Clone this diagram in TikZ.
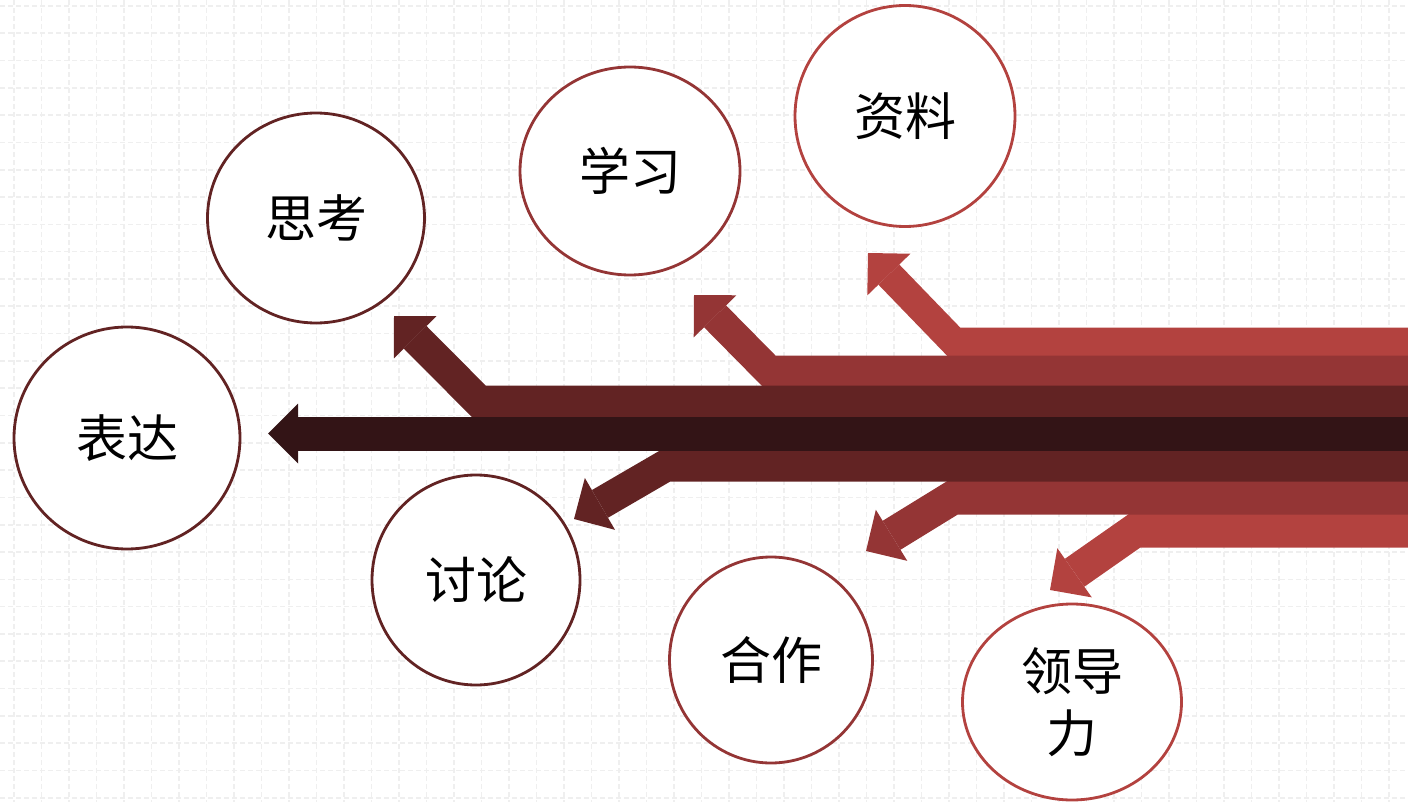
\documentclass[tikz,border=0pt]{standalone}
\usepackage{fontspec}
\newfontfamily\cjk{Noto Sans CJK SC}
\usetikzlibrary{arrows.meta,shapes.geometric}
\definecolor{redA}{HTML}{B3423F}
\definecolor{redB}{HTML}{943535}
\definecolor{redC}{HTML}{622323}
\definecolor{redD}{HTML}{331416}
\definecolor{gridgray}{HTML}{EFEFEF}
\begin{document}
\begin{tikzpicture}
            [
                x = 1pt, y = -1pt,
                topic/.style = {shape=ellipse, draw, fill=white, line width=2.8pt,
                inner sep=0pt, align=center, text=black,
                font=\cjk\fontsize{51}{62}\selectfont},
                band/.style  = {line width=#1, line join=miter,
                -{Triangle[width=60pt, length=30pt, line width=0pt]}}
            ]
            \useasboundingbox (0,0) rectangle (1408,802);
            \draw[gridgray, line width=1.6pt, dash pattern=on 5pt off 3pt]
                foreach \i in {0,...,51} {(14+27.5*\i,0) -- ++(0,802)}
                foreach \j in {0,...,29} {(0,6+27.3*\j) -- ++(1408,0)};
            \node[topic, draw=redC, minimum width=226pt, minimum height=222pt] (biaoda) at (127,438) {表达};
            \node[topic, draw=redC, minimum width=217pt, minimum height=210pt] (sikao) at (316,218) {思考};
            \node[topic, draw=redB, minimum width=220pt, minimum height=208pt] (xuexi) at (630,171) {学习};
            \node[topic, draw=redA, minimum width=220pt, minimum height=221pt] (ziliao) at (905,116) {资料};
            \node[topic, draw=redC, minimum width=208pt, minimum height=210pt] (taolun) at (476,580) {讨论};
            \node[topic, draw=redB, minimum width=203pt, minimum height=206pt] (hezuo) at (771,660) {合作};
            \node[topic, draw=redA, minimum width=219pt, minimum height=196pt] (lingdao) at (1072,702) {领导\\力};
            \coordinate (ziliao-in)   at (1408,342);   \coordinate (ziliao-bend)  at (954,342);   \coordinate (ziliao-tip)  at (868,253);
            \coordinate (lingdao-in)  at (1408,530.5); \coordinate (lingdao-bend) at (1135,530.5); \coordinate (lingdao-tip) at (1050,590);
            \coordinate (xuexi-in)    at (1408,371);   \coordinate (xuexi-bend)   at (769,371);   \coordinate (xuexi-tip)   at (694,295);
            \coordinate (hezuo-in)    at (1408,497.5); \coordinate (hezuo-bend)   at (953,497.5); \coordinate (hezuo-tip)   at (866,551);
            \coordinate (sikao-in)    at (1408,401.5); \coordinate (sikao-bend)   at (479,401.5); \coordinate (sikao-tip)   at (394,316);
            \coordinate (taolun-in)   at (1408,465.5); \coordinate (taolun-bend)  at (666,465.5); \coordinate (taolun-tip)  at (574,519);
            \coordinate (biaoda-in)   at (1408,433.5); \coordinate (biaoda-tip)   at (268,433.5);
            \draw[band=29pt, redA] (ziliao-in) -- (ziliao-bend) -- (ziliao-tip);
            \draw[band=34pt, redA] (lingdao-in) -- (lingdao-bend) -- (lingdao-tip);
            \draw[band=31pt, redB] (xuexi-in) -- (xuexi-bend) -- (xuexi-tip);
            \draw[band=34pt, redB] (hezuo-in) -- (hezuo-bend) -- (hezuo-tip);
            \draw[band=32pt, redC] (sikao-in) -- (sikao-bend) -- (sikao-tip);
            \draw[band=32pt, redC] (taolun-in) -- (taolun-bend) -- (taolun-tip);
            \draw[band=34pt, redD] (biaoda-in) -- (biaoda-tip);
        \end{tikzpicture}
\end{document}
